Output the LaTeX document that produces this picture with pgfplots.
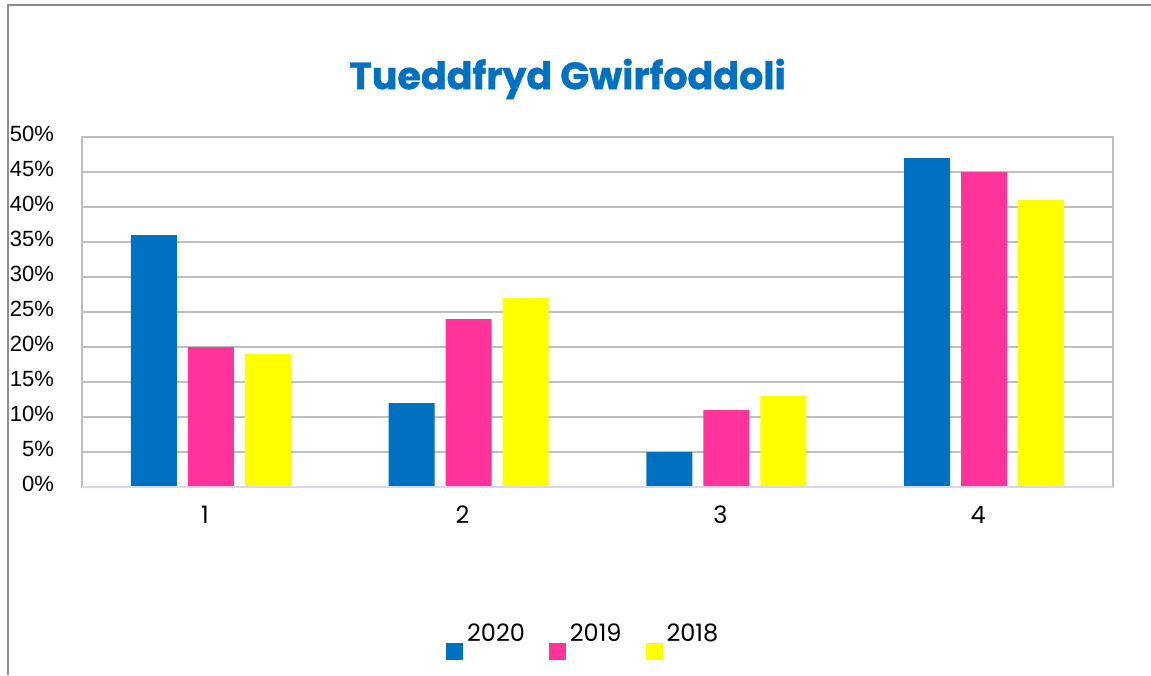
\documentclass[border=0pt]{standalone}
\usepackage{pgfplots}
\pgfplotsset{compat=1.18}
\usepackage{fontspec}
\setmainfont{Poppins}
\newfontfamily\titlefont{Poppins}[BoldFeatures={FakeBold=1.0}]
\newfontfamily\arialfont{Liberation Sans}
\definecolor{cblue}{HTML}{0070C0}
\definecolor{cpink}{HTML}{FF3399}
\definecolor{cyellow}{HTML}{FFFF00}
\definecolor{gridgray}{HTML}{BFBFBF}
\definecolor{framegray}{HTML}{8C8C8C}
\definecolor{lav}{HTML}{D9D6EE}
\pgfplotsset{sqleg/.style={legend image code/.code={\fill[##1] (-1.5pt,-13pt) rectangle (7pt,-4.5pt);}}}
\begin{document}
\begin{tikzpicture}
\path[use as bounding box] (0,0) rectangle (575.5pt,337.5pt);
\fill[white] (0,0) rectangle (575.5pt,337.5pt);
\draw[framegray, line width=1pt] (3.75pt,0) -- (3.75pt,334.75pt) -- (575.5pt,334.75pt);
\node[font=\titlefont\fontsize{19}{22}\selectfont\bfseries, text=cblue] at (283.8pt,298pt) {Tueddfryd Gwirfoddoli};
\begin{axis}[
  at={(41pt,94pt)}, anchor=south west,
  scale only axis, width=515.5pt, height=175pt,
  xmin=0, xmax=4, ymin=0, ymax=50,
  ybar=5.5pt, bar width=23pt,
  xtick={0.5,1.5,2.5,3.5}, xticklabels={1,2,3,4},
  ytick={0,5,...,50},
  /pgf/number format/assume math mode=true,
  yticklabel={\pgfmathprintnumber{\tick}\%},
  yticklabel style={font=\arialfont\fontsize{11}{13}\selectfont, xshift=-10.5pt, yshift=1.5pt},
  xticklabel style={font=\fontsize{12}{14}\selectfont, yshift=-6pt, xshift=-3pt},
  ymajorgrids, grid style={gridgray, line width=1pt},
  axis line style={gridgray, line width=1pt},
  major tick length=0pt,
  legend columns=3,
  legend style={draw=none, fill=none, font=\fontsize{12}{14}\selectfont,
    at={(axis description cs:0.347,-0.437)}, anchor=west,
    /tikz/every even column/.append style={column sep=10pt}},
]
\addplot[fill=cblue, draw=none, sqleg]
  coordinates {(0.5,36) (1.5,12) (2.5,5) (3.5,47)};
\addlegendentry{2020}
\addplot[fill=cpink, draw=none, sqleg]
  coordinates {(0.5,20) (1.5,24) (2.5,11) (3.5,45)};
\addlegendentry{2019}
\addplot[fill=cyellow, draw=none, sqleg]
  coordinates {(0.5,19) (1.5,27) (2.5,13) (3.5,41)};
\addlegendentry{2018}
\draw[lav, line width=1.2pt] (rel axis cs:0,0) -- (rel axis cs:1,0);
\end{axis}
\end{tikzpicture}
\end{document}
